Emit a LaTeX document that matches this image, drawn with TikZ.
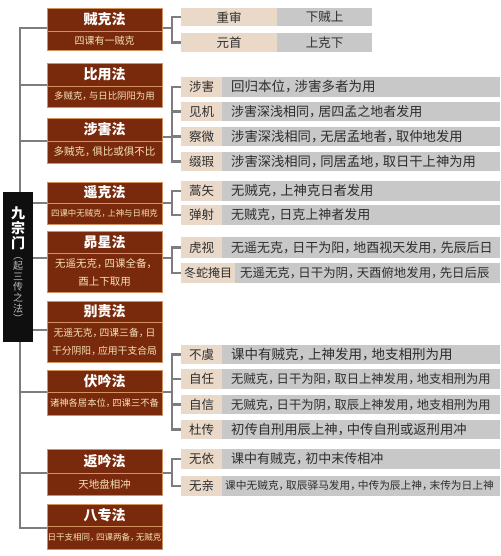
\documentclass[tikz,border=0pt]{standalone}
\usepackage{fontspec}
\setmainfont{Noto Sans CJK SC}
\definecolor{brn}{RGB}{122,42,12}
\definecolor{brnline}{RGB}{210,145,95}
\definecolor{subtxt}{RGB}{245,226,185}
\definecolor{beige}{RGB}{234,217,200}
\definecolor{grayrow}{RGB}{200,200,200}
\definecolor{conngray}{RGB}{125,125,125}
\definecolor{rowtxt}{RGB}{45,45,45}
\newcommand\fs[1]{\fontsize{#1}{#1}\selectfont}
\newcommand\cm{，\kern-0.3em}
% method box: #1 name, #2 top, #3 bottom, #4 divider, #5 title, #6 subtitle font, #7 subtitle
\newcommand\FaBox[7]{%
  \node[fabox, minimum height={#3-#2}] (#1) at (47,#2) {};
  \draw[brnline, line width=0.8pt] (47,#4) -- (162,#4);
  \node[fatitle] (#1-t) at (104.5,{(#2+#4)/2}) {#5};
  \node[fasub, font=#6] (#1-s) at (104.5,{(#4+#3)/2}) {#7};
}
% row: [#1 text offset] #2 name, #3 top, #4 bottom, #5 label right, #6 label, #7 size, #8 text
\newcommand\RowA[8][9]{%
  \node[lab, minimum width={#5-181}, minimum height={#4-#3}] (#2) at (181,#3) {#6};
  \node[desc, minimum width={500-#5}, minimum height={#4-#3}] (#2-d) at (#5,#3) {};
  \node[desctxt, font=\fs{#7}] (#2-t) at ({#5+#1},{(#3+#4)/2}) {#8};
}
\begin{document}
\begin{tikzpicture}[x=1pt,y=-1pt,
  fabox/.style={fill=brn, draw=brnline, line width=0.6pt, inner sep=0pt, minimum width=115pt, anchor=north west},
  fatitle/.style={text=white, font=\bfseries\fs{14}, inner sep=0pt},
  fasub/.style={text=subtxt, inner sep=0pt, align=center},
  lab/.style={fill=beige, inner sep=0pt, anchor=north west, text=rowtxt, font=\fs{12.5}},
  desc/.style={fill=grayrow, inner sep=0pt, anchor=north west},
  desctxt/.style={text=rowtxt, inner sep=0pt, anchor=west},
  conn/.style={draw=conngray, line width=2.5pt},
]
\useasboundingbox (0,0) rectangle (500,556);
\fill[white] (0,0) rectangle (500,556);

% method boxes
\FaBox{zk}{8}{50}{31}{贼克法}{\fs{10}}{四课有一贼克}
\FaBox{by}{63}{107}{86}{比用法}{\fs{9.4}}{多贼克\cm 与日比阴阳为用}
\FaBox{sh0}{118}{163}{141}{涉害法}{\fs{10.5}}{多贼克\cm 俱比或俱不比}
\FaBox{yk}{182}{224}{203}{遥克法}{\fs{8.4}}{四课中无贼克\cm 上神与日相克}
\FaBox{mx}{231}{292}{253}{昴星法}{\fontsize{10.5}{18}\selectfont}{无遥无克\cm 四课全备\cm\\酉上下取用}
\FaBox{bz0}{301}{362}{322}{别责法}{\fontsize{9.8}{18}\selectfont}{无遥无克\cm 四课三备\cm 日\\干分阴阳\cm 应用干支合局}
\FaBox{fy}{370}{415}{392}{伏吟法}{\fs{9.3}}{诸神各居本位\cm 四课三不备}
\FaBox{fa}{449}{495}{473}{返吟法}{\fs{10.5}}{天地盘相冲}
\FaBox{bzf}{504}{549}{526}{八专法}{\fs{8.5}}{日干支相同\cm 四课两备\cm 无贼克}

% rows of 贼克法
\node[lab, minimum width=96, minimum height=18] (zs) at (181,8) {重审};
\node[desc, minimum width=95, minimum height=18, text=rowtxt, font=\fs{12.5}] (zs-d) at (277,8) {下贼上};
\node[lab, minimum width=96, minimum height=19] (ys) at (181,33) {元首};
\node[desc, minimum width=95, minimum height=19, text=rowtxt, font=\fs{12.5}] (ys-d) at (277,33) {上克下};

% rows of 涉害法
\RowA{sha}{77}{97}{222}{涉害}{13.5}{回归本位\cm 涉害多者为用}
\RowA{jj}{102}{121}{222}{见机}{13}{涉害深浅相同\cm 居四孟之地者发用}
\RowA{cw}{127}{146}{222}{察微}{13.3}{涉害深浅相同\cm 无居孟地者\cm 取仲地发用}
\RowA{zx}{152}{171}{222}{缀瑕}{13.3}{涉害深浅相同\cm 同居孟地\cm 取日干上神为用}

% rows of 遥克法
\RowA{hs}{181}{201}{222}{蒿矢}{13.3}{无贼克\cm 上神克日者发用}
\RowA{ds}{205}{225}{222}{弹射}{13}{无贼克\cm 日克上神者发用}

% rows of 昴星法
\RowA{hsh}{237}{258}{222}{虎视}{13}{无遥无克\cm 日干为阳\cm 地酉视天发用\cm 先辰后日}
\node[lab, minimum width=54, minimum height=20, font=\fs{12}] (dsy) at (181,263) {冬蛇掩目};
\node[desc, minimum width=265, minimum height=20] (dsy-d) at (235,263) {};
\node[desctxt, font=\fs{12.4}] (dsy-t) at (240,273) {无遥无克\cm 日干为阴\cm 天酉俯地发用\cm 先日后辰};

% rows of 伏吟法
\RowA{by1}{345}{364}{222}{不虞}{13.5}{课中有贼克\cm 上神发用\cm 地支相刑为用}
\RowA{zr}{369}{389}{222}{自任}{12.3}{无贼克\cm 日干为阳\cm 取日上神发用\cm 地支相刑为用}
\RowA{zxn}{395}{414}{222}{自信}{12.3}{无贼克\cm 日干为阴\cm 取辰上神发用\cm 地支相刑为用}
\RowA{dc}{420}{439}{222}{杜传}{13.3}{初传自刑用辰上神\cm 中传自刑或返刑用冲}

% rows of 返吟法
\RowA{wy}{449}{469}{222}{无依}{13}{课中有贼克\cm 初中末传相冲}
\RowA[3]{wq}{476}{496}{222}{无亲}{10.7}{课中无贼克\cm 取辰驿马发用\cm 中传为辰上神\cm 末传为日上神}

% main trunk
\coordinate (m1) at (20,28);
\coordinate (m2) at (20,85);
\coordinate (m3) at (20,141);
\coordinate (m4) at (20,203);
\coordinate (m5) at (20,258);
\coordinate (m6) at (20,330);
\coordinate (m7) at (20,392);
\coordinate (m8) at (20,473);
\coordinate (m9) at (20,528);
\draw[conn] (zk.west |- m1) -- (m1) -- (m9) -- (bzf.west |- m9);
\draw[conn] (m2) -- (by.west |- m2);
\draw[conn] (m3) -- (sh0.west |- m3);
\draw[conn] (m4) -- (yk.west |- m4);
\draw[conn] (m5) -- (mx.west |- m5);
\draw[conn] (m6) -- (bz0.west |- m6);
\draw[conn] (m7) -- (fy.west |- m7);
\draw[conn] (m8) -- (fa.west |- m8);

% brackets
\coordinate (b1) at (172,28);
\draw[conn] (zk.east |- b1) -- (b1);
\draw[conn] (zs.west) -- (zs.west -| b1) -- (ys.west -| b1) -- (ys.west);

\coordinate (b3) at (172,137);
\draw[conn] (sh0.east |- b3) -- (b3);
\draw[conn] (sha.west) -- (sha.west -| b3) -- (zx.west -| b3) -- (zx.west);
\draw[conn] (jj.west) -- (jj.west -| b3);
\draw[conn] (cw.west) -- (cw.west -| b3);

\coordinate (b4) at (172,203);
\draw[conn] (yk.east |- b4) -- (b4);
\draw[conn] (hs.west) -- (hs.west -| b4) -- (ds.west -| b4) -- (ds.west);

\coordinate (b5) at (172,258);
\draw[conn] (mx.east |- b5) -- (b5);
\draw[conn] (hsh.west) -- (hsh.west -| b5) -- (dsy.west -| b5) -- (dsy.west);

\coordinate (b7) at (172,392);
\draw[conn] (fy.east |- b7) -- (b7);
\draw[conn] (by1.west) -- (by1.west -| b7) -- (dc.west -| b7) -- (dc.west);
\draw[conn] (zr.west) -- (zr.west -| b7);
\draw[conn] (zxn.west) -- (zxn.west -| b7);

\coordinate (b8) at (172,473);
\draw[conn] (fa.east |- b8) -- (b8);
\draw[conn] (wy.west) -- (wy.west -| b8) -- (wq.west -| b8) -- (wq.west);

% black title box
\node[fill=black!94, minimum width=30pt, minimum height=150pt, anchor=north west, inner sep=0pt] (jz) at (3,192) {};
\node[text=white, font=\bfseries\fontsize{14}{15}\selectfont, align=center, inner sep=0pt, anchor=north] (jz-t) at (18,207) {九\\宗\\门};
\node[text=black!25, font=\fontsize{10}{10.6}\selectfont, align=center, inner sep=0pt, anchor=north] (jz-s) at (18,257) {︵\\起\\三\\传\\之\\法\\︶};
\end{tikzpicture}
\end{document}
